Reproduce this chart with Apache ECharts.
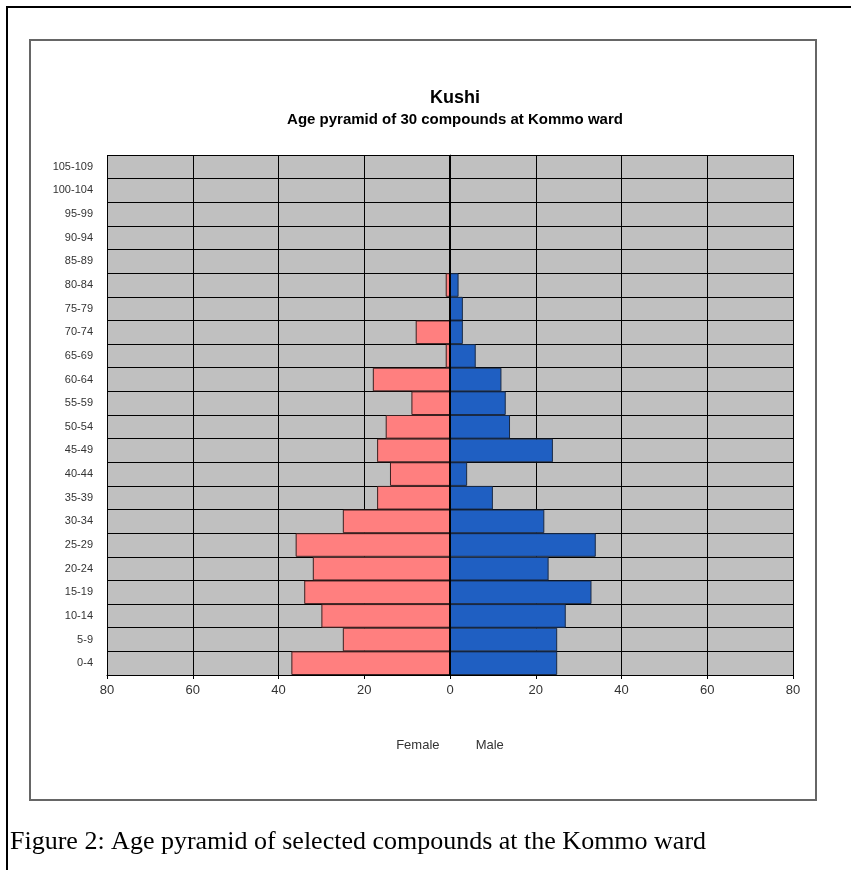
<!DOCTYPE html>
<html>
<head>
<meta charset="utf-8">
<script src="https://cdn.jsdelivr.net/npm/echarts@6/dist/echarts.min.js"></script>
<style>
html,body{margin:0;padding:0;background:#fff;}
#chart{width:851px;height:870px;}
</style>
</head>
<body>
<div id="chart"></div>
<script>
var categories = ['0-4','5-9','10-14','15-19','20-24','25-29','30-34','35-39','40-44','45-49','50-54','55-59','60-64','65-69','70-74','75-79','80-84','85-89','90-94','95-99','100-104','105-109'];
var female = [37,25,30,34,32,36,25,17,14,17,15,9,18,1,8,0,1,0,0,0,0,0];
var male = [25,25,27,33,23,34,22,10,4,24,14,13,12,6,3,3,2,0,0,0,0,0];

var chart = echarts.init(document.getElementById('chart'), null, {renderer:'canvas'});
var font = 'Liberation Sans, Arial, sans-serif';
chart.setOption({
  animation:false,
  backgroundColor:'#fff',
  title:{
    text:'Kushi',
    subtext:'Age pyramid of 30 compounds at Kommo ward',
    left:450, top:84, textAlign:'center', itemGap:5,
    textStyle:{fontFamily:font,fontSize:18,fontWeight:'bold',color:'#000'},
    subtextStyle:{fontFamily:font,fontSize:15,fontWeight:'bold',color:'#000'}
  },
  grid:{left:107,right:58,top:155,bottom:195,show:true,backgroundColor:'#C0C0C0',borderWidth:0},
  xAxis:{
    type:'value',min:-80,max:80,interval:20,
    name:'Female          Male',nameLocation:'middle',nameGap:64,
    nameTextStyle:{fontFamily:font,fontSize:13,color:'#333'},
    axisLine:{show:true,onZero:false,lineStyle:{color:'#000',width:1}},
    axisTick:{show:true,length:4,lineStyle:{color:'#000'}},
    axisLabel:{fontFamily:font,fontSize:13,color:'#333',margin:9,formatter:function(v){return Math.abs(v);}},
    splitLine:{show:true,lineStyle:{color:'#000',width:1}}
  },
  yAxis:{
    type:'category',data:categories,
    axisLine:{show:true,lineStyle:{color:'#555',width:1}},
    axisTick:{show:false},
    axisLabel:{fontFamily:font,fontSize:11,color:'#333',margin:14},
    splitLine:{show:true,interval:0,lineStyle:{color:'#000',width:1}}
  },
  series:[
    {name:'Female',type:'bar',data:female.map(function(v){return -v;}),barWidth:'100%',barGap:'-100%',barCategoryGap:0,
     itemStyle:{color:'#FF7F7F',borderColor:'#3a2020',borderWidth:1},
     markLine:{silent:true,symbol:'none',label:{show:false},lineStyle:{color:'#000',width:2,type:'solid'},data:[{xAxis:0}]}
    },
    {name:'Male',type:'bar',data:male,barWidth:'100%',barGap:'-100%',barCategoryGap:0,
     itemStyle:{color:'#1F5FC2',borderColor:'#1a2a44',borderWidth:1}}
  ],
  graphic:[
    {type:'polyline',silent:true,shape:{points:[[7,870],[7,7],[851,7]]},style:{stroke:'#000',lineWidth:2,fill:null}},
    {type:'rect',silent:true,shape:{x:30,y:40,width:786,height:760},style:{stroke:'#666',lineWidth:2,fill:null}},
    {type:'text',left:10,top:829,style:{text:'Figure 2: Age pyramid of selected compounds at the Kommo ward',font:'26px "Liberation Serif", "Times New Roman", serif',fill:'#000'}}
  ]
});
</script>
</body>
</html>
